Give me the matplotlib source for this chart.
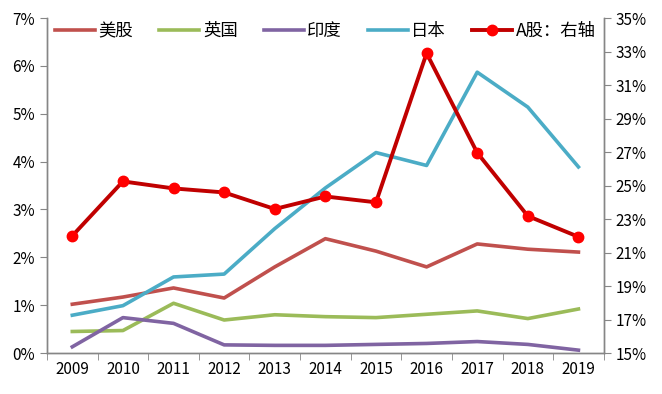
import matplotlib
matplotlib.use("Agg")
import matplotlib.pyplot as plt
from matplotlib.ticker import FuncFormatter, FixedLocator

plt.rcParams['font.family'] = ['Noto Sans CJK SC', 'DejaVu Sans']

years = ['2009', '2010', '2011', '2012', '2013', '2014', '2015', '2016', '2017', '2018', '2019']
us = [1.02, 1.17, 1.36, 1.15, 1.80, 2.39, 2.13, 1.80, 2.28, 2.17, 2.11]
uk = [0.45, 0.47, 1.04, 0.69, 0.80, 0.76, 0.74, 0.81, 0.88, 0.72, 0.92]
india = [0.13, 0.74, 0.62, 0.17, 0.16, 0.16, 0.18, 0.20, 0.24, 0.18, 0.06]
japan = [0.79, 0.99, 1.59, 1.65, 2.60, 3.45, 4.19, 3.92, 5.87, 5.14, 3.89]
ashare = [22.0, 25.25, 24.83, 24.59, 23.6, 24.35, 24.0, 32.9, 26.96, 23.18, 21.94]

fig = plt.figure(figsize=(6.62, 3.94), dpi=100)
ax = fig.add_axes([0.071, 0.104, 0.841, 0.850])
ax2 = ax.twinx()

x = list(range(len(years)))
lw = 2.6
l1, = ax.plot(x, us, color='#C0504D', lw=lw, label='美股')
l2, = ax.plot(x, uk, color='#9BBB59', lw=lw, label='英国')
l3, = ax.plot(x, india, color='#8064A2', lw=lw, label='印度')
l4, = ax.plot(x, japan, color='#4BACC6', lw=lw, label='日本')
l5, = ax2.plot(x, ashare, color='#C00000', lw=2.8, marker='o', markersize=7.5,
               markerfacecolor='#FF0000', markeredgecolor='#FF0000', label='A股：右轴')

ax.set_xlim(-0.5, len(years) - 0.5)
ax.set_ylim(0, 7)
ax2.set_ylim(15, 35)
ax.set_yticks(range(0, 8))
ax.yaxis.set_major_formatter(FuncFormatter(lambda v, p: f'{int(v)}%'))
ax2.set_yticks(range(15, 36, 2))
ax2.yaxis.set_major_formatter(FuncFormatter(lambda v, p: f'{int(v)}%'))

ax.set_xticks(x)
ax.set_xticklabels(years)
ax.xaxis.set_minor_locator(FixedLocator([i - 0.5 for i in range(len(years) + 1)]))
ax.tick_params(axis='x', which='major', length=0, labelsize=11, pad=6)
ax.tick_params(axis='x', which='minor', length=5, color='#868686', direction='out')
ax.tick_params(axis='y', length=5, color='#868686', labelsize=11, direction='out')
ax2.tick_params(axis='y', length=5, color='#868686', labelsize=11, direction='out')

for a in (ax, ax2):
    a.spines['top'].set_visible(False)
    for s in ('left', 'right', 'bottom'):
        a.spines[s].set_color('#868686')
        a.spines[s].set_linewidth(1.0)

leg = ax.legend(handles=[l1, l2, l3, l4, l5], loc='upper center', bbox_to_anchor=(0.5, 1.035),
                ncol=5, frameon=False, fontsize=12.5, handlelength=2.3, handletextpad=0.2,
                columnspacing=1.5)

fig.savefig('out.png', dpi=100)
